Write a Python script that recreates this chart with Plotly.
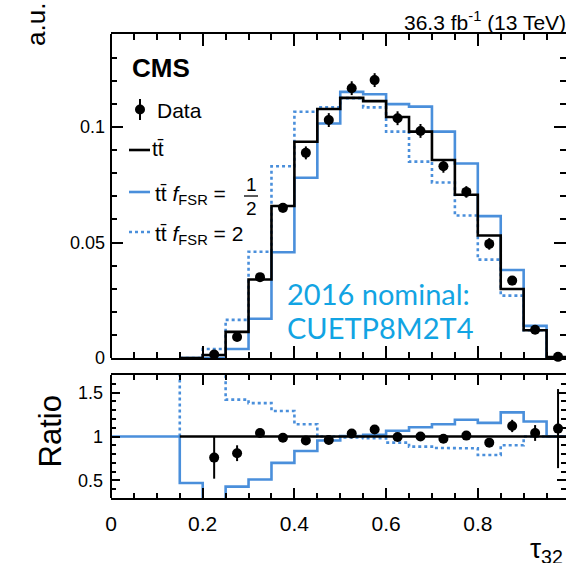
import plotly.graph_objects as go

# ---------------- data ----------------
edges = [0.15, 0.20, 0.25, 0.30, 0.35, 0.40, 0.45, 0.50, 0.55, 0.60,
         0.65, 0.70, 0.75, 0.80, 0.85, 0.90, 0.95, 1.00]
nominal = [0.0, 0.0013, 0.0113, 0.034, 0.0658, 0.0936, 0.1078, 0.1126, 0.1112,
           0.1043, 0.098, 0.0857, 0.0707, 0.053, 0.0299, 0.012, 0.0004]
fsr_half = [0.0, 0.0, 0.0039, 0.017, 0.0458, 0.078, 0.1015, 0.1152, 0.1142,
            0.1099, 0.1088, 0.098, 0.0842, 0.0614, 0.0381, 0.0139, 0.0003]
fsr_two = [0.0, 0.0039, 0.0165, 0.046, 0.083, 0.1066, 0.1085, 0.1125, 0.1085,
           0.098, 0.085, 0.076, 0.0617, 0.0426, 0.027, 0.012, 0.0003]
data_x = [0.225, 0.275, 0.325, 0.375, 0.425, 0.475, 0.525, 0.575,
          0.625, 0.675, 0.725, 0.775, 0.825, 0.875, 0.925, 0.975]
data_y = [0.0015, 0.0091, 0.035, 0.065, 0.0888, 0.103, 0.1168, 0.1203,
          0.1038, 0.0983, 0.083, 0.0719, 0.0494, 0.0335, 0.0122, 0.0005]
data_err = [0.0008, 0.001, 0.0015, 0.002, 0.0028, 0.003, 0.003, 0.003,
            0.003, 0.003, 0.0028, 0.0025, 0.0025, 0.002, 0.0015, 0.001]

ratio_edges = [0.0, 0.05, 0.10] + edges
ratio_half = [1.0, 1.0, 1.0, 0.47, 0.0, 0.43, 0.51, 0.70, 0.835, 0.955, 1.005,
              1.02, 1.065, 1.105, 1.14, 1.19, 1.155, 1.275, 1.17, 1.0]
ratio_two = [3.0, 3.0, 1.42, 1.38, 1.29, 1.14, 1.0, 0.99, 0.98, 0.93, 0.885,
             0.87, 0.865, 0.79, 0.90, 1.0, 1.0]
ratio_nominal = [1.0] * 17
ratio_data = [0.76, 0.81, 1.04, 0.985, 0.955, 0.96, 1.035, 1.08,
              0.995, 1.0, 0.974, 1.01, 0.93, 1.12, 1.04, 1.09]
ratio_data_err = [0.24, 0.09, 0.035, 0.03, 0.03, 0.03, 0.03, 0.03,
                  0.03, 0.03, 0.035, 0.04, 0.05, 0.07, 0.09, 0.45]

x_ticks = [0, 0.2, 0.4, 0.6, 0.8]
x_ticktext = ["0", "0.2", "0.4", "0.6", "0.8"]
y_ticks = [0, 0.05, 0.1]
y_ticktext = ["0", "0.05", "0.1"]
r_ticks = [0.5, 1, 1.5]
r_ticktext = ["0.5", "1", "1.5"]

# ---------------- style ----------------
BLUE = "#4a8fdb"
CYAN = "#12a4e3"
FONT = "Liberation Sans, Arial, sans-serif"
W, H = 566, 563
ML, MT, MB = 111, 34, 65
XMAX = (W - ML) / 458.5


def step(e, v, base):
    xs, ys = [e[0]], [base]
    for i, val in enumerate(v):
        xs += [e[i], e[i + 1]]
        ys += [val, val]
    xs.append(e[-1])
    ys.append(base)
    return xs, ys


def px(p):
    return (p - ML) / (W - ML)


def py(p):
    return (H - MB - p) / (H - MB - MT)


fig = go.Figure()

# top panel
for vals, col, dash in [(fsr_half, BLUE, "solid"), (fsr_two, BLUE, "dot"), (nominal, "black", "solid")]:
    xs, ys = step(edges, vals, 0.0)
    fig.add_trace(go.Scatter(x=xs, y=ys, mode="lines", line=dict(color=col, width=2.6, dash=dash),
                             xaxis="x", yaxis="y", showlegend=False, hoverinfo="skip"))
fig.add_trace(go.Scatter(x=data_x, y=data_y, mode="markers",
                         marker=dict(color="black", size=10),
                         error_y=dict(type="data", array=data_err, color="black", thickness=2, width=0),
                         cliponaxis=False, xaxis="x", yaxis="y", showlegend=False))

# ratio panel
xs, ys = step(ratio_edges, ratio_half, 1.0)
fig.add_trace(go.Scatter(x=xs, y=ys, mode="lines", line=dict(color=BLUE, width=2.6),
                         xaxis="x2", yaxis="y2", showlegend=False, hoverinfo="skip"))
xs, ys = step(edges, ratio_two, 1.0)
fig.add_trace(go.Scatter(x=xs, y=ys, mode="lines", line=dict(color=BLUE, width=2.6, dash="dot"),
                         xaxis="x2", yaxis="y2", showlegend=False, hoverinfo="skip"))
xs, ys = step(edges, ratio_nominal, 1.0)
fig.add_trace(go.Scatter(x=xs, y=ys, mode="lines", line=dict(color="black", width=2.6),
                         xaxis="x2", yaxis="y2", showlegend=False, hoverinfo="skip"))
fig.add_trace(go.Scatter(x=data_x, y=ratio_data, mode="markers",
                         marker=dict(color="black", size=10),
                         error_y=dict(type="data", array=ratio_data_err, color="black", thickness=2, width=0),
                         xaxis="x2", yaxis="y2", showlegend=False))

top_dom = [(H - MB - 358) / (H - MB - MT), 1]
bot_dom = [0, (H - MB - 375) / (H - MB - MT)]

axis_common = dict(showgrid=False, zeroline=False, ticks="inside", tickcolor="black",
                   tickwidth=1.5, linecolor="black", linewidth=2)

fig.update_layout(
    width=W, height=H,
    margin=dict(l=ML, r=0, t=MT, b=MB),
    paper_bgcolor="white", plot_bgcolor="white",
    font=dict(family=FONT, color="black"),
    xaxis=dict(domain=[0, 1], anchor="y", range=[0, XMAX], tickvals=x_ticks, showticklabels=False,
               ticklen=12, showline=True, mirror="ticks", matches="x2",
               minor=dict(tickmode="linear", tick0=0, dtick=0.05, ticklen=6, ticks="inside",
                          tickcolor="black", tickwidth=1.5), **axis_common),
    yaxis=dict(domain=top_dom, anchor="x", range=[0, (358 - MT) / 2310], tickvals=y_ticks,
               ticktext=y_ticktext, ticklen=12, showline=False, mirror="ticks",
               tickfont=dict(size=18), ticklabelstandoff=5,
               minor=dict(tickmode="linear", tick0=0, dtick=0.01, ticklen=6, ticks="inside",
                          tickcolor="black", tickwidth=1.5), **axis_common),
    xaxis2=dict(domain=[0, 1], anchor="y2", range=[0, XMAX], tickvals=x_ticks, ticktext=x_ticktext,
                ticklen=10, showline=True, mirror="ticks", tickfont=dict(size=21),
                ticklabelstandoff=6,
                minor=dict(tickmode="linear", tick0=0, dtick=0.05, ticklen=5, ticks="inside",
                           tickcolor="black", tickwidth=1.5), **axis_common),
    yaxis2=dict(domain=bot_dom, anchor="x2", range=[0.3, 1.7], tickvals=r_ticks, ticktext=r_ticktext,
                ticklen=9, showline=False, mirror="ticks", tickfont=dict(size=18),
                ticklabelstandoff=7,
                minor=dict(tickmode="linear", tick0=0, dtick=0.1, ticklen=5, ticks="inside",
                           tickcolor="black", tickwidth=1.5), **axis_common),
)

shapes = [
    dict(type="line", xref="paper", yref="paper", x0=0, x1=0, y0=top_dom[0], y1=top_dom[1],
         line=dict(color="black", width=2)),
    dict(type="line", xref="paper", yref="paper", x0=0, x1=0, y0=bot_dom[0], y1=bot_dom[1],
         line=dict(color="black", width=2)),
    # legend keys
    dict(type="line", xref="paper", yref="paper", x0=px(140), x1=px(140), y0=py(99), y1=py(120),
         line=dict(color="black", width=2)),
    dict(type="circle", xref="paper", yref="paper", xsizemode="pixel", ysizemode="pixel",
         xanchor=px(140), yanchor=py(109.5), x0=-5, x1=5, y0=-5, y1=5,
         fillcolor="black", line=dict(color="black", width=0)),
    dict(type="line", xref="paper", yref="paper", x0=px(129), x1=px(150), y0=py(150), y1=py(150),
         line=dict(color="black", width=2.6)),
    dict(type="line", xref="paper", yref="paper", x0=px(129), x1=px(150), y0=py(192), y1=py(192),
         line=dict(color=BLUE, width=2.6)),
    dict(type="line", xref="paper", yref="paper", x0=px(129), x1=px(150), y0=py(232), y1=py(232),
         line=dict(color=BLUE, width=2.6, dash="dot")),
    dict(type="line", xref="paper", yref="paper", x0=px(244), x1=px(258), y0=py(196), y1=py(196),
         line=dict(color="black", width=1.3)),
]
fig.update_layout(shapes=shapes)

TT = "tt\u0304"
ann = [
    dict(text="<b>CMS</b>", x=px(130), y=py(68), xanchor="left", font=dict(size=26)),
    dict(text="Data", x=px(155), y=py(110), xanchor="left", font=dict(size=21)),
    dict(text=TT, x=px(150), y=py(149), xanchor="left", font=dict(size=21)),
    dict(text=TT + " <i>f</i><sub>FSR</sub> =", x=px(153), y=py(195), xanchor="left", font=dict(size=21)),
    dict(text="1", x=px(251), y=py(184), xanchor="center", font=dict(size=19)),
    dict(text="2", x=px(251), y=py(208), xanchor="center", font=dict(size=19)),
    dict(text=TT + " <i>f</i><sub>FSR</sub> = 2", x=px(153), y=py(235), xanchor="left", font=dict(size=21)),
    dict(text="36.3 fb<sup>-1</sup> (13 TeV)", x=px(568), y=py(21), xanchor="right", font=dict(size=21)),
    dict(text="a.u.", x=px(19), y=py(25), textangle=-90, font=dict(size=26)),
    dict(text="Ratio", x=px(30), y=py(432), textangle=-90, font=dict(size=31)),
    dict(text="\u03c4<sub>32</sub>", x=px(528), y=py(550), xanchor="left", font=dict(size=28)),
    dict(text="2016 nominal:", x=px(285), y=py(293), xanchor="left",
         font=dict(size=29, family="Lato, Open Sans, sans-serif", color=CYAN)),
    dict(text="CUETP8M2T4", x=px(285), y=py(327), xanchor="left",
         font=dict(size=29, family="Lato, Open Sans, sans-serif", color=CYAN)),
]
for a in ann:
    a.setdefault("xref", "paper")
    a.setdefault("yref", "paper")
    a.setdefault("yanchor", "middle")
    a["showarrow"] = False
fig.update_layout(annotations=ann)

fig.write_html("out.html")
